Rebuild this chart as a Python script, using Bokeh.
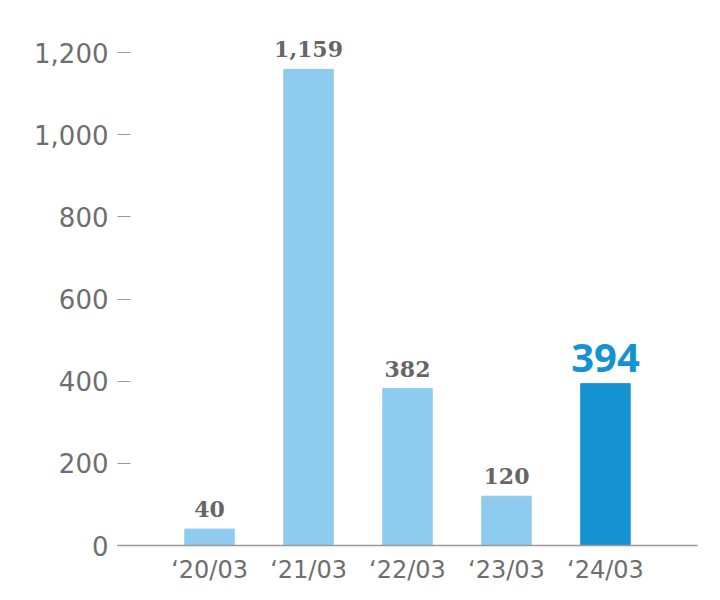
from bokeh.plotting import figure
from bokeh.models import ColumnDataSource, FactorRange, Range1d, FixedTicker, NumeralTickFormatter
from bokeh.core.properties import value
from bokeh.embed import file_html
from bokeh.resources import INLINE

categories = ["\u201820/03", "\u201821/03", "\u201822/03", "\u201823/03", "\u201824/03"]
values = [40, 1159, 382, 120, 394]
y_ticks = [0, 200, 400, 600, 800, 1000, 1200]

light = "#8fcbee"
dark = "#1592d1"
highlight = len(categories) - 1

colors = [dark if i == highlight else light for i in range(len(categories))]
labels = ["{:,}".format(v) for v in values]

src = ColumnDataSource(dict(x=categories, top=values, color=colors, label=labels))
reg = ColumnDataSource(dict(x=categories[:highlight], y=values[:highlight], label=labels[:highlight]))
hi = ColumnDataSource(dict(x=categories[highlight:], y=values[highlight:], label=labels[highlight:]))

p = figure(width=712, height=598, output_backend="svg", toolbar_location=None,
           x_range=FactorRange(*categories, range_padding=0.172),
           y_range=Range1d(0, 1261),
           min_border_left=117, min_border_right=15, min_border_top=27, min_border_bottom=53)

p.vbar(x="x", top="top", width=0.5, color="color", source=src)

p.text(x="x", y="y", text="label", source=reg, text_align="center", text_baseline="bottom",
       y_offset=-12, text_font=value("DejaVu Serif"), text_font_style="bold",
       text_font_size="22px", text_color="#666666")
p.text(x="x", y="y", text="label", source=hi, text_align="center", text_baseline="bottom",
       y_offset=-12, text_font=value("Open Sans"), text_font_style="bold",
       text_font_size="40px", text_color=dark)

p.xgrid.visible = False
p.ygrid.visible = False
p.outline_line_color = None
p.background_fill_color = "white"
p.border_fill_color = "white"

ya = p.yaxis[0]
ya.ticker = FixedTicker(ticks=y_ticks)
ya.formatter = NumeralTickFormatter(format="0,0")
ya.axis_line_color = None
ya.major_tick_in = 13
ya.major_tick_out = 0
ya.minor_tick_line_color = None
ya.major_tick_line_color = "#999999"
ya.major_tick_line_width = 1.2
ya.major_label_standoff = 9
ya.major_label_text_font = "DejaVu Sans"
ya.major_label_text_font_size = "26px"
ya.major_label_text_color = "#6e6e6e"

xa = p.xaxis[0]
xa.axis_line_color = "#999999"
xa.axis_line_width = 1.5
xa.major_tick_line_color = None
xa.minor_tick_line_color = None
xa.major_label_standoff = 4
xa.major_label_text_font = "DejaVu Sans"
xa.major_label_text_font_size = "24px"
xa.major_label_text_color = "#6e6e6e"

open("out.html", "w").write(file_html(p, INLINE))
